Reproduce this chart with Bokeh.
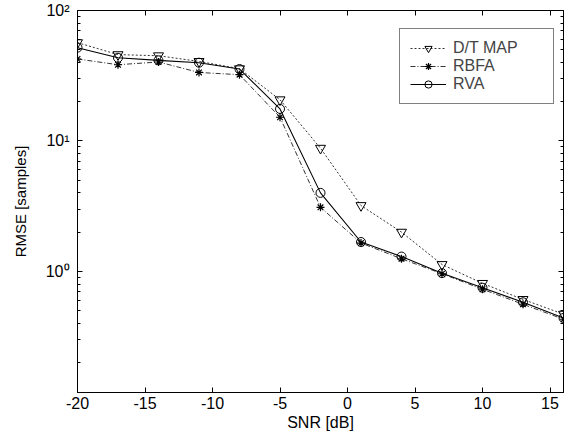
from bokeh.plotting import figure
from bokeh.models import (Range1d, FixedTicker, LinearAxis, LogAxis, Legend, LegendItem,
                          CustomJSTickFormatter)
from bokeh.embed import file_html
from bokeh.resources import INLINE

snr = [-20, -17, -14, -11, -8, -5, -2, 1, 4, 7, 10, 13, 16]
dt_map = [56.7, 45.9, 45.0, 40.7, 35.8, 20.7, 8.8, 3.2, 2.0, 1.13, 0.81, 0.61, 0.47]
rbfa = [42.5, 38.4, 40.3, 33.5, 32.2, 15.2, 3.1, 1.65, 1.25, 0.96, 0.73, 0.56, 0.43]
rva = [51.9, 43.4, 41.5, 39.8, 35.6, 17.6, 4.0, 1.68, 1.30, 0.97, 0.75, 0.58, 0.44]

x_ticks = [-20, -15, -10, -5, 0, 5, 10, 15]
x_tick_labels = {t: str(t) for t in x_ticks}
y_ticks = [1, 10, 100]
y_tick_labels = {1: "10⁰", 10: "10¹", 100: "10²"}
y_minor = [m * d for d in (0.1, 1, 10) for m in range(2, 10)]

FONT = "Liberation Sans"

p = figure(width=574, height=440, output_backend="svg", toolbar_location=None,
           y_axis_type="log", x_range=Range1d(-20, 16), y_range=Range1d(0.118, 100),
           min_border_left=77, min_border_right=11, min_border_top=10, min_border_bottom=48,
           background_fill_color="white", border_fill_color="white")
p.grid.visible = False
p.outline_line_color = "black"
p.outline_line_width = 1

xt = FixedTicker(ticks=x_ticks, minor_ticks=[])
yt = FixedTicker(ticks=y_ticks, minor_ticks=y_minor)

xa = p.xaxis[0]
xa.ticker = xt
xa.major_label_overrides = x_tick_labels
ya = p.yaxis[0]
ya.ticker = yt
ya.major_label_overrides = y_tick_labels

for ax in (xa, ya):
    ax.major_tick_in = 5
    ax.major_tick_out = 0
    ax.minor_tick_in = 3
    ax.minor_tick_out = 0
    ax.axis_line_color = "black"
    ax.major_tick_line_color = "black"
    ax.minor_tick_line_color = "black"
    ax.major_label_text_font = FONT
    ax.major_label_text_font_size = "16px"
    ax.major_label_text_color = "black"
    ax.axis_label_text_font = FONT
    ax.axis_label_text_font_size = "16px"
    ax.axis_label_text_font_style = "normal"
    ax.axis_label_text_color = "black"

xa.axis_label = "SNR [dB]"
xa.axis_label_standoff = 2
xa.major_label_standoff = 4
ya.axis_label = "RMSE [samples]"
ya.axis_label_text_font_size = "15px"
ya.axis_label_standoff = 14
ya.major_label_standoff = 8

blank = CustomJSTickFormatter(code="return ''")
top = LinearAxis(ticker=xt, formatter=blank)
right = LogAxis(ticker=yt, formatter=blank)
for ax in (top, right):
    ax.major_tick_in = 5
    ax.major_tick_out = 0
    ax.minor_tick_in = 3
    ax.minor_tick_out = 0
    ax.major_label_standoff = 0
    ax.major_label_text_font_size = "1px"
    ax.axis_line_color = "black"
p.add_layout(top, "above")
p.add_layout(right, "right")

l1 = p.line(snr, dt_map, line_color="black", line_width=0.8, line_dash="2 2")
m1 = p.scatter(snr, dt_map, marker="inverted_triangle", size=10, fill_color=None,
               line_color="black", line_width=1)
l2 = p.line(snr, rbfa, line_color="black", line_width=0.8, line_dash="5 2 1 2")
m2 = p.scatter(snr, rbfa, marker="asterisk", size=8, line_color="black", line_width=1.2)
l3 = p.line(snr, rva, line_color="black", line_width=1.1)
m3 = p.scatter(snr, rva, marker="circle", size=9, fill_color=None,
               line_color="black", line_width=1)

legend = Legend(items=[LegendItem(label="D/T MAP", renderers=[l1, m1]),
                       LegendItem(label="RBFA", renderers=[l2, m2]),
                       LegendItem(label="RVA", renderers=[l3, m3])],
                location=(322, 288), padding=10, spacing=0, glyph_width=36, glyph_height=18,
                label_standoff=7, label_width=90, label_height=18,
                label_text_font=FONT, label_text_font_size="16px",
                border_line_color="black", border_line_width=1,
                background_fill_alpha=1, margin=0)
p.add_layout(legend, "center")

open("out.html", "w").write(file_html(p, INLINE))
